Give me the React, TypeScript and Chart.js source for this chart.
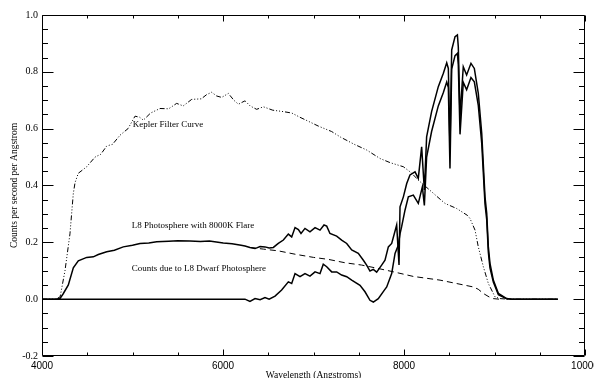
import React, { useEffect, useRef } from "react";
import { Chart, registerables } from "chart.js";

Chart.register(...registerables);

// Kepler filter curve (dash-dot-dot-dot)
const keplerWave = [4000, 4150, 4200, 4254, 4309, 4346, 4365, 4401, 4494, 4586, 4650, 4715, 4780, 4862, 4950, 5028, 5080, 5120, 5200, 5304, 5400, 5488, 5560, 5654, 5760, 5820, 5875, 5930, 5985, 6059, 6120, 6170, 6243, 6300, 6372, 6446, 6550, 6667, 6760, 6851, 6950, 7054, 7200, 7300, 7450, 7587, 7735, 7850, 7993, 8080, 8158, 8305, 8398, 8453, 8582, 8700, 8729, 8785, 8821, 8877, 8932, 9006, 9061, 9150, 9700];
const keplerResp = [0, 0, 0.008, 0.10, 0.23, 0.372, 0.41, 0.443, 0.466, 0.50, 0.51, 0.539, 0.545, 0.577, 0.60, 0.644, 0.64, 0.63, 0.655, 0.671, 0.67, 0.689, 0.68, 0.703, 0.705, 0.72, 0.728, 0.715, 0.71, 0.724, 0.70, 0.686, 0.698, 0.68, 0.668, 0.677, 0.665, 0.66, 0.655, 0.64, 0.625, 0.609, 0.59, 0.57, 0.545, 0.525, 0.495, 0.48, 0.466, 0.445, 0.419, 0.378, 0.352, 0.337, 0.319, 0.295, 0.284, 0.243, 0.184, 0.114, 0.055, 0.008, 0.002, 0, 0];

// L8 photosphere with 8000K flare (upper solid)
const totalWave = [4000, 4150, 4199, 4236, 4291, 4346, 4401, 4494, 4567, 4622, 4715, 4800, 4898, 5000, 5083, 5180, 5267, 5400, 5500, 5635, 5750, 5850, 6003, 6100, 6200, 6243, 6298, 6354, 6410, 6464, 6510, 6556, 6611, 6667, 6722, 6759, 6796, 6833, 6862, 6906, 6961, 7017, 7072, 7116, 7146, 7182, 7256, 7311, 7367, 7422, 7495, 7551, 7587, 7624, 7661, 7698, 7753, 7790, 7827, 7864, 7919, 7945, 7956, 7993, 8030, 8066, 8122, 8158, 8195, 8225, 8250, 8305, 8379, 8435, 8472, 8490, 8508, 8527, 8564, 8590, 8600, 8619, 8655, 8692, 8740, 8777, 8821, 8859, 8895, 8914, 8932, 8950, 8987, 9043, 9134, 9200, 9700];
const totalCounts = [0, 0, 0.002, 0.02, 0.05, 0.11, 0.135, 0.147, 0.149, 0.157, 0.167, 0.172, 0.184, 0.19, 0.196, 0.198, 0.202, 0.204, 0.206, 0.205, 0.203, 0.205, 0.198, 0.195, 0.19, 0.187, 0.182, 0.178, 0.185, 0.184, 0.18, 0.182, 0.196, 0.208, 0.229, 0.219, 0.252, 0.245, 0.231, 0.249, 0.237, 0.252, 0.243, 0.261, 0.257, 0.231, 0.222, 0.208, 0.196, 0.173, 0.161, 0.137, 0.12, 0.099, 0.105, 0.095, 0.12, 0.137, 0.184, 0.196, 0.261, 0.12, 0.325, 0.36, 0.407, 0.437, 0.448, 0.425, 0.536, 0.384, 0.571, 0.66, 0.748, 0.795, 0.832, 0.812, 0.531, 0.877, 0.924, 0.93, 0.888, 0.642, 0.818, 0.789, 0.83, 0.812, 0.724, 0.583, 0.36, 0.302, 0.184, 0.126, 0.067, 0.02, 0.002, 0, 0];

// Counts due to L8 dwarf photosphere (lower solid)
const photoWave = [4000, 6243, 6298, 6354, 6410, 6464, 6510, 6575, 6648, 6722, 6759, 6796, 6851, 6906, 6961, 7017, 7072, 7108, 7146, 7201, 7256, 7311, 7367, 7422, 7514, 7569, 7624, 7661, 7716, 7783, 7809, 7864, 7901, 7937, 7956, 7974, 8011, 8048, 8103, 8158, 8203, 8225, 8250, 8305, 8379, 8435, 8472, 8490, 8508, 8527, 8564, 8590, 8600, 8619, 8655, 8692, 8740, 8777, 8821, 8859, 8895, 8914, 8932, 8950, 8987, 9043, 9134, 9200, 9700];
const photoCounts = [0, 0, -0.008, 0.002, -0.002, 0.006, 0, 0.011, 0.032, 0.061, 0.055, 0.09, 0.079, 0.09, 0.081, 0.096, 0.09, 0.123, 0.114, 0.096, 0.096, 0.085, 0.079, 0.067, 0.049, 0.026, -0.004, -0.01, 0.002, 0.032, 0.043, 0.09, 0.161, 0.19, 0.23, 0.255, 0.313, 0.36, 0.366, 0.337, 0.395, 0.33, 0.50, 0.59, 0.68, 0.727, 0.764, 0.745, 0.46, 0.81, 0.857, 0.865, 0.825, 0.58, 0.763, 0.737, 0.78, 0.765, 0.682, 0.548, 0.335, 0.28, 0.165, 0.11, 0.06, 0.016, 0.001, 0, 0];

// Flare contribution (dashed)
const flareWave = [6298, 6450, 6611, 6800, 7000, 7164, 7350, 7532, 7716, 7900, 8103, 8398, 8582, 8766, 8820, 8877, 8940, 8987, 9050];
const flareCounts = [0.182, 0.176, 0.17, 0.158, 0.147, 0.14, 0.128, 0.12, 0.108, 0.095, 0.08, 0.067, 0.055, 0.043, 0.035, 0.02, 0.008, 0.002, 0];

const annotationTexts = ["Kepler Filter Curve", "L8 Photosphere with 8000K Flare", "Counts due to L8 Dwarf Photosphere"];
const annotationWave = [5002, 4991, 4991];
const annotationValue = [0.613, 0.26, 0.108];

const xTitle = "Wavelength (Angstroms)";
const yTitle = "Counts per second per Angstrom";

const SERIF = '"Liberation Serif", "Times New Roman", serif';
const SANS = '"Liberation Sans", Arial, sans-serif';

const pts = (xs: number[], ys: number[]) => xs.map((x, i) => ({ x, y: ys[i] }));

const frameTicks = {
  id: "frameTicks",
  afterDatasetsDraw(chart: any) {
    const { ctx, chartArea: a, scales } = chart;
    const xs = scales.x;
    const ys = scales.y;
    const L = Math.round(a.left) + 0.5;
    const R = Math.round(a.right) - 0.5;
    const T = Math.round(a.top) + 0.5;
    const B = Math.round(a.bottom) - 0.5;
    ctx.save();
    ctx.strokeStyle = "#000";
    ctx.lineWidth = 1;
    ctx.setLineDash([]);
    ctx.beginPath();
    ctx.rect(L, T, R - L, B - T);
    ctx.stroke();
    ctx.beginPath();
    for (let v = xs.min; v <= xs.max + 1e-6; v += 500) {
      const major = Math.abs(v / 2000 - Math.round(v / 2000)) < 1e-6;
      const len = major ? 6 : 3;
      const px = Math.round(xs.getPixelForValue(v)) + 0.5;
      ctx.moveTo(px, B);
      ctx.lineTo(px, B - len);
      ctx.moveTo(px, T);
      ctx.lineTo(px, T + len);
    }
    for (let i = 0; ; i++) {
      const v = ys.min + i * 0.05;
      if (v > ys.max + 1e-6) break;
      const major = Math.abs(v / 0.2 - Math.round(v / 0.2)) < 1e-6;
      const len = major ? 11 : 5.5;
      const py = Math.round(ys.getPixelForValue(v)) + 0.5;
      ctx.moveTo(L, py);
      ctx.lineTo(L + len, py);
      ctx.moveTo(R, py);
      ctx.lineTo(R - len, py);
    }
    ctx.stroke();
    ctx.fillStyle = "#000";
    ctx.font = `9px ${SERIF}`;
    ctx.textAlign = "left";
    ctx.textBaseline = "middle";
    annotationTexts.forEach((t, i) => {
      ctx.fillText(t, xs.getPixelForValue(annotationWave[i]), ys.getPixelForValue(annotationValue[i]));
    });
    ctx.restore();
  },
};

export default function App() {
  const ref = useRef<HTMLCanvasElement | null>(null);
  useEffect(() => {
    if (!ref.current) return;
    const chart = new Chart(ref.current, {
      type: "line",
      data: {
        datasets: [
          {
            label: "Kepler Filter Curve",
            data: pts(keplerWave, keplerResp),
            borderColor: "#000",
            borderWidth: 1,
            borderDash: [5, 2, 1, 2, 1, 2, 1, 2],
            pointRadius: 0,
            tension: 0,
          },
          {
            label: "L8 Photosphere with 8000K Flare",
            data: pts(totalWave, totalCounts),
            borderColor: "#000",
            borderWidth: 1.5,
            pointRadius: 0,
            tension: 0,
          },
          {
            label: "Counts due to L8 Dwarf Photosphere",
            data: pts(photoWave, photoCounts),
            borderColor: "#000",
            borderWidth: 1.5,
            pointRadius: 0,
            tension: 0,
          },
          {
            label: "Flare",
            data: pts(flareWave, flareCounts),
            borderColor: "#000",
            borderWidth: 1,
            borderDash: [6, 4],
            pointRadius: 0,
            tension: 0,
          },
        ],
      },
      options: {
        animation: false,
        responsive: false,
        devicePixelRatio: 1,
        layout: { padding: { left: 0, right: 9, top: 15, bottom: 0 } },
        plugins: { legend: { display: false }, tooltip: { enabled: false } },
        scales: {
          x: {
            type: "linear",
            min: 4000,
            max: 10000,
            border: { display: false },
            grid: { display: false, drawTicks: false },
            ticks: {
              stepSize: 2000,
              padding: 4,
              color: "#000",
              font: { family: SANS, size: 10 },
              maxRotation: 0,
              autoSkip: false,
              callback: (v: any) => String(v),
            },
            title: {
              display: true,
              text: xTitle,
              color: "#000",
              font: { family: SERIF, size: 9.5 },
              padding: { top: 0, bottom: -3 },
            },
            afterFit: (s: any) => {
              s.height = 22;
              s.paddingLeft = 0;
              s.paddingRight = 0;
            },
          },
          y: {
            type: "linear",
            min: -0.2,
            max: 1.0,
            border: { display: false },
            grid: { display: false, drawTicks: false },
            ticks: {
              stepSize: 0.2,
              padding: 4,
              color: "#000",
              font: { family: SERIF, size: 10 },
              autoSkip: false,
              callback: (v: any) => {
                const n = Math.abs(Number(v)) < 1e-9 ? 0 : Number(v);
                return n.toFixed(1);
              },
            },
            title: {
              display: true,
              text: yTitle,
              color: "#000",
              font: { family: SERIF, size: 9.5 },
              padding: { top: 9, bottom: 0 },
            },
            afterFit: (s: any) => {
              s.width = 42;
              s.paddingTop = 0;
              s.paddingBottom = 0;
            },
          },
        },
      },
      plugins: [frameTicks],
    });
    return () => chart.destroy();
  }, []);
  return (
    <div style={{ position: "fixed", left: 0, top: 0, width: 594, height: 378, background: "#fff" }}>
      <canvas ref={ref} width={594} height={378} style={{ width: 594, height: 378, display: "block" }} />
    </div>
  );
}
